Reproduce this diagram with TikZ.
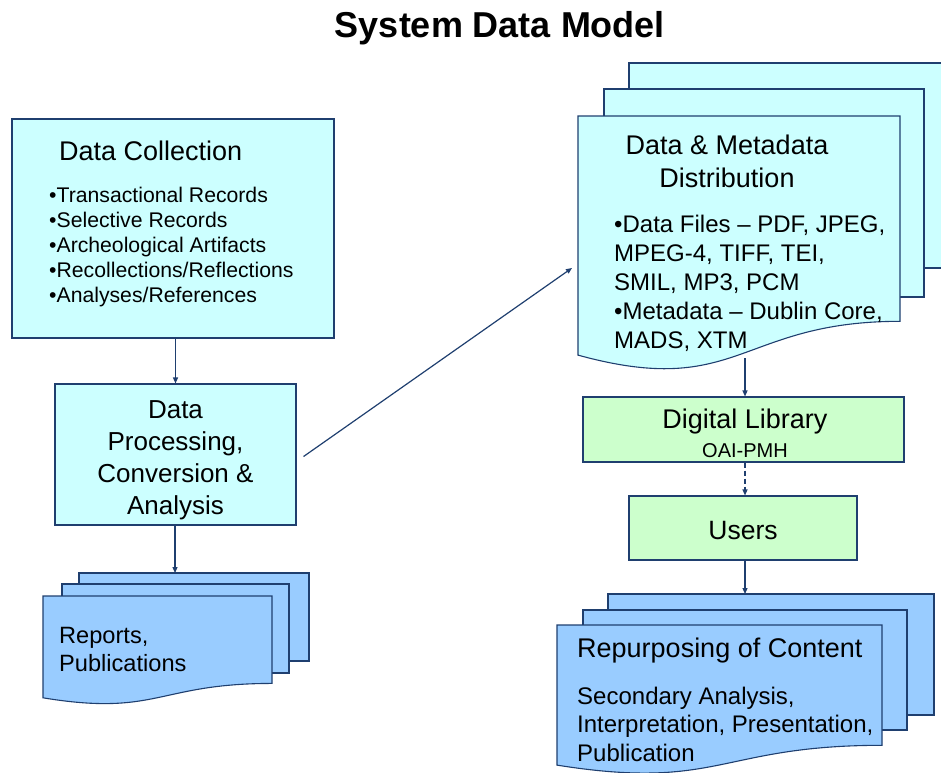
\documentclass[tikz,border=0pt]{standalone}
\usepackage{fontspec}
\setmainfont{Liberation Sans}
\usetikzlibrary{arrows.meta}
\definecolor{edgeblue}{HTML}{1F3F6F}
\definecolor{lcyan}{HTML}{CCFFFF}
\definecolor{lblue}{HTML}{99CCFF}
\definecolor{lgreen}{HTML}{CCFFCC}
\newcommand{\fs}[2]{\fontsize{#1}{#2}\selectfont}
% #1 style, #2 L, #3 T, #4 R, #5 H
\newcommand{\docshape}[5]{%
  \filldraw[#1] (#2,#3) -- (#4,#3) -- (#4,{#3+0.802*#5})
    .. controls ({(#2+#4)/2},{#3+0.802*#5}) and ({(#2+#4)/2},{#3+1.107*#5}) ..
    (#2,{#3+0.934*#5}) -- cycle;}
\begin{document}
\begin{tikzpicture}[x=1pt,y=-1pt,
  boxline/.style={draw=edgeblue, line width=1.1pt},
  cyanbox/.style={boxline, fill=lcyan, inner sep=0pt},
  greenbox/.style={boxline, fill=lgreen, inner sep=0pt},
  bluedoc/.style={boxline, fill=lblue},
  cyandoc/.style={boxline, fill=lcyan},
  txt/.style={inner sep=0pt, text=black},
  arr/.style={draw=edgeblue, line width=1.2pt, -{Triangle[length=6pt,width=5pt]}},
  dasharr/.style={arr, dash pattern=on 5pt off 3pt}]
\useasboundingbox (0,0) rectangle (941,772);

% title
\node[txt, font=\fs{36}{40}\bfseries] (title) at (500,28) {System Data Model};

% Data Collection
\node[cyanbox, minimum width=322pt, minimum height=219pt] (dc) at (173,228.5) {};
\node[txt, anchor=west, font=\fs{27}{32}] (dctitle) at (59,151) {Data Collection};
\node[txt, anchor=west, align=left, font=\fs{21.2}{25}] (dclist) at (49,247)
  {•Transactional Records\\•Selective Records\\•Archeological Artifacts\\•Recollections/Reflections\\•Analyses/References};

% Data Processing
\node[cyanbox, minimum width=241pt, minimum height=141pt] (dp) at (175.5,454.5) {};
\node[txt, align=center, font=\fs{26}{32}] (dptext) at (175.5,460.5)
  {Data\\Processing,\\Conversion \&\\Analysis};

% Reports stack
\filldraw[bluedoc] (79,573) rectangle (309,661);
\filldraw[bluedoc] (62,584) rectangle (289,673);
\docshape{bluedoc}{43}{596}{272}{109}
\coordinate (reptop) at (175,573);
\node[txt, anchor=west, align=left, font=\fs{23.6}{28}] (rep) at (59,649) {Reports,\\Publications};

% Data & Metadata stack
\filldraw[cyandoc] (629,63) rectangle (960,268);
\filldraw[cyandoc] (604,89) rectangle (924,297);
\docshape{cyandoc}{578}{116}{900}{256}
\coordinate (dmin) at (572,268);
\coordinate (dmbot) at (745,358);
\node[txt, align=center, font=\fs{27}{33}] (dmtitle) at (727,161) {Data \& Metadata\\Distribution};
\node[txt, anchor=west, align=left, font=\fs{24}{29}] (dmlist) at (614,283)
  {•Data Files – PDF, JPEG,\\MPEG-4, TIFF, TEI,\\SMIL, MP3, PCM\\•Metadata – Dublin Core,\\MADS, XTM};

% Digital Library
\node[greenbox, minimum width=321pt, minimum height=65pt] (dl) at (743.5,429.5) {};
\node[txt, font=\fs{27}{32}] (dltitle) at (745,422) {Digital Library};
\node[txt, font=\fs{20}{24}] (dlsub) at (745,451) {OAI-PMH};

% Users
\node[greenbox, minimum width=228pt, minimum height=64pt] (users) at (743,528) {};
\node[txt, font=\fs{26.5}{32}] (userstext) at (743,531) {Users};

% Repurposing stack
\filldraw[bluedoc] (608,594) rectangle (934,715);
\filldraw[bluedoc] (583,610) rectangle (907,730);
\docshape{bluedoc}{557}{625}{882}{150}
\coordinate (reptop2) at (745,594);
\node[txt, anchor=west, font=\fs{27}{32}] (rptitle) at (577,651) {Repurposing of Content};
\node[txt, anchor=west, align=left, font=\fs{24}{28.5}] (rplist) at (577,724)
  {Secondary Analysis,\\Interpretation, Presentation,\\Publication};

% connectors
\draw[arr] (dp.north |- dc.south) -- (dp.north);
\draw[arr] (reptop |- dp.south) -- (reptop);
\draw[arr] ([xshift=7pt,yshift=-2pt]dp.east) -- (dmin);
\draw[arr] (dmbot) -- (dmbot |- dl.north);
\draw[dasharr] (dmbot |- dl.south) -- (dmbot |- users.north);
\draw[arr] (reptop2 |- users.south) -- (reptop2);
\end{tikzpicture}
\end{document}
